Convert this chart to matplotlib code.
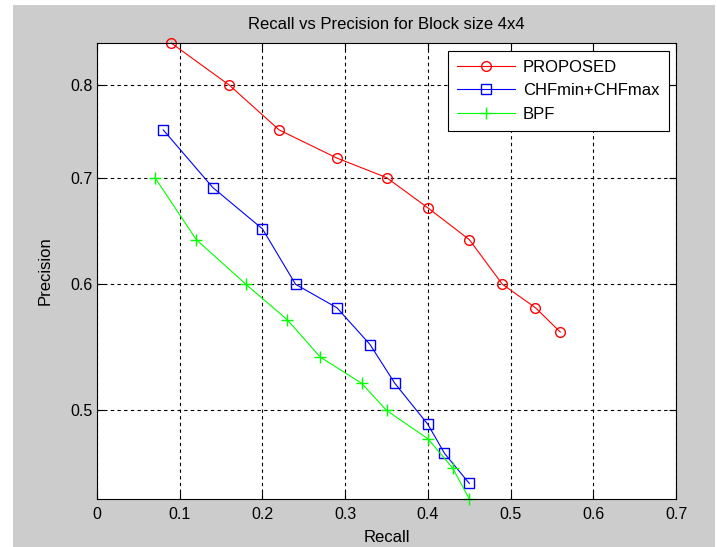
import numpy as np
import matplotlib
matplotlib.use("Agg")
import matplotlib.pyplot as plt
from matplotlib.patches import Rectangle
from matplotlib.ticker import FixedLocator, NullLocator, FormatStrFormatter

plt.rcParams['font.family'] = ['Liberation Sans', 'DejaVu Sans']

# Recall / precision values
recall_proposed = [0.09, 0.16, 0.22, 0.29, 0.35, 0.40, 0.45, 0.49, 0.53, 0.56]
prec_proposed = [0.85, 0.80, 0.75, 0.72, 0.70, 0.67, 0.64, 0.60, 0.58, 0.56]

recall_chf = [0.08, 0.14, 0.20, 0.24, 0.29, 0.33, 0.36, 0.40, 0.42, 0.45]
prec_chf = [0.75, 0.69, 0.65, 0.60, 0.58, 0.55, 0.52, 0.49, 0.47, 0.45]

recall_bpf = [0.07, 0.12, 0.18, 0.23, 0.27, 0.32, 0.35, 0.40, 0.43, 0.45]
prec_bpf = [0.70, 0.64, 0.60, 0.57, 0.54, 0.52, 0.50, 0.48, 0.46, 0.44]

x_ticks = [0, 0.1, 0.2, 0.3, 0.4, 0.5, 0.6, 0.7]
y_ticks = [0.5, 0.6, 0.7, 0.8]

fig = plt.figure(figsize=(7.17, 5.47), dpi=100, facecolor='white')
# grey figure area (screenshot has a thin white margin top/left)
fig.patches.append(Rectangle((13 / 717, 0), 702 / 717, 542 / 547, transform=fig.transFigure,
                             facecolor='#cccccc', edgecolor='none', zorder=-10))

ax = fig.add_axes([0.1353, 0.0878, 0.8077, 0.8332])
ax.set_facecolor('white')

ax.plot(recall_proposed, prec_proposed, color='red', marker='o', markersize=7,
        markerfacecolor='none', linewidth=0.8, label='PROPOSED', clip_on=False)
ax.plot(recall_chf, prec_chf, color='blue', marker='s', markersize=7.5,
        markerfacecolor='none', linewidth=0.8, label='CHFmin+CHFmax', clip_on=False)
ax.plot(recall_bpf, prec_bpf, color='#00ff00', marker='+', markersize=8,
        linewidth=0.8, label='BPF', clip_on=False)

ax.set_yscale('log')
ax.set_xlim(0, 0.7)
ax.set_ylim(0.44, 0.85)
ax.xaxis.set_major_locator(FixedLocator(x_ticks))
ax.yaxis.set_major_locator(FixedLocator(y_ticks))
ax.yaxis.set_minor_locator(NullLocator())
ax.yaxis.set_major_formatter(FormatStrFormatter('%g'))
ax.xaxis.set_major_formatter(FormatStrFormatter('%g'))

ax.grid(True, color='black', linestyle=(0, (3, 3)), linewidth=0.8)
ax.tick_params(direction='in', top=True, right=True, labelsize=11.5, length=5, width=0.8)
ax.tick_params(axis='x', pad=6)
ax.tick_params(axis='y', pad=3)
for s in ax.spines.values():
    s.set_linewidth(0.8)

ax.set_title('Recall vs Precision for Block size 4x4', fontsize=12, pad=10)
ax.set_xlabel('Recall', fontsize=12)
ax.set_ylabel('Precision', fontsize=12)
ax.xaxis.set_label_coords(0.5, -0.068)
ax.yaxis.set_label_coords(-0.076, 0.5)

leg = ax.legend(loc='upper right', fontsize=12, fancybox=False, framealpha=1,
                edgecolor='black', borderaxespad=0.45, handlelength=3.5,
                handletextpad=0.45, labelspacing=0.5, borderpad=0.55)
leg.get_frame().set_linewidth(0.8)

fig.savefig('out.png', dpi=100, facecolor=fig.get_facecolor())
